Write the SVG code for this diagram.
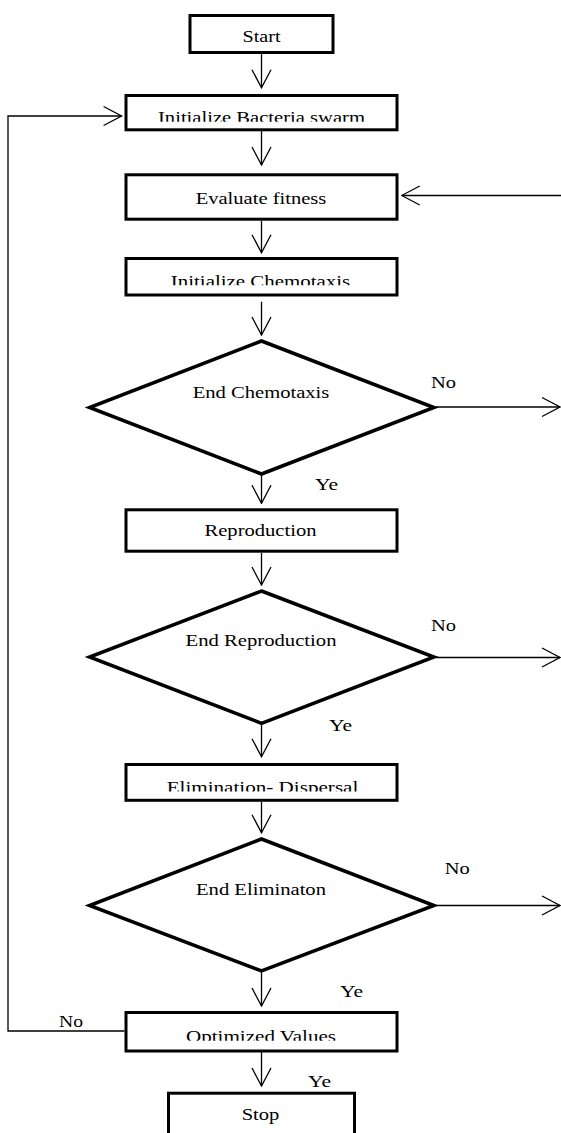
<svg xmlns="http://www.w3.org/2000/svg" width="561" height="1133" viewBox="0 0 561 1133">
<style>
.box{fill:#fff;stroke:#000;stroke-width:3}
.dia{fill:#fff;stroke:#000;stroke-width:3.5;stroke-linejoin:miter}
.con{fill:none;stroke:#000;stroke-width:1.3}
text{font-family:"Liberation Serif","Times New Roman",serif;font-size:17.5px;fill:#000}
.c{text-anchor:middle}
</style>
<defs>
<marker id="ah" markerUnits="userSpaceOnUse" viewBox="0 0 20 22" markerWidth="20" markerHeight="22" refX="19" refY="11" orient="auto">
<path d="M1,1.5 L19,11 L1,20.5" fill="none" stroke="#000" stroke-width="1.3"/>
</marker>
<clipPath id="cp1"><rect x="124" y="90" width="276" height="31.8"/></clipPath>
<clipPath id="cp2"><rect x="124" y="255" width="276" height="30.3"/></clipPath>
<clipPath id="cp3"><rect x="124" y="760" width="276" height="31.5"/></clipPath>
<clipPath id="cp4"><rect x="124" y="1010" width="276" height="30.8"/></clipPath>
</defs>

<g id="connectors">
<line class="con" x1="261.5" y1="54" x2="261.5" y2="87.7" marker-end="url(#ah)"/>
<line class="con" x1="261.5" y1="131" x2="261.5" y2="165" marker-end="url(#ah)"/>
<line class="con" x1="561" y1="195.5" x2="401.7" y2="195.5" marker-end="url(#ah)"/>
<line class="con" x1="261.5" y1="221" x2="261.5" y2="252.7" marker-end="url(#ah)"/>
<line class="con" x1="261.5" y1="301.7" x2="261.5" y2="335" marker-end="url(#ah)"/>
<line class="con" x1="436" y1="407" x2="560" y2="407" marker-end="url(#ah)"/>
<line class="con" x1="261.5" y1="472" x2="261.5" y2="503.3" marker-end="url(#ah)"/>
<line class="con" x1="261.5" y1="553" x2="261.5" y2="585" marker-end="url(#ah)"/>
<line class="con" x1="436" y1="657.5" x2="560" y2="657.5" marker-end="url(#ah)"/>
<line class="con" x1="261.5" y1="722" x2="261.5" y2="756.7" marker-end="url(#ah)"/>
<line class="con" x1="261.5" y1="802" x2="261.5" y2="832.7" marker-end="url(#ah)"/>
<line class="con" x1="436" y1="905.5" x2="560" y2="905.5" marker-end="url(#ah)"/>
<line class="con" x1="261.5" y1="970" x2="261.5" y2="1006" marker-end="url(#ah)"/>
<line class="con" x1="261.5" y1="1052" x2="261.5" y2="1086" marker-end="url(#ah)"/>
<polyline class="con" points="124.5,1031 8,1031 8,116 121.6,116" marker-end="url(#ah)"/>
<text x="431" y="388" textLength="25" lengthAdjust="spacingAndGlyphs">No</text>
<text x="315" y="489.5" textLength="23" lengthAdjust="spacingAndGlyphs">Ye</text>
<text x="431" y="631" textLength="25" lengthAdjust="spacingAndGlyphs">No</text>
<text x="329" y="730.5" textLength="23" lengthAdjust="spacingAndGlyphs">Ye</text>
<text x="444.7" y="874" textLength="25" lengthAdjust="spacingAndGlyphs">No</text>
<text x="340" y="996.6" textLength="23" lengthAdjust="spacingAndGlyphs">Ye</text>
<text x="59" y="1026.6" textLength="24" lengthAdjust="spacingAndGlyphs">No</text>
<text x="308" y="1086.6" textLength="23" lengthAdjust="spacingAndGlyphs">Ye</text>
</g>

<g id="start">
<rect class="box" x="190" y="15.5" width="143" height="37"/>
<text class="c" x="261.5" y="42" textLength="38" lengthAdjust="spacingAndGlyphs">Start</text>
</g>
<g id="init-swarm">
<rect class="box" x="126" y="95.5" width="271" height="34.3"/>
<text class="c" x="261.5" y="123" textLength="207" lengthAdjust="spacingAndGlyphs" clip-path="url(#cp1)">Initialize Bacteria swarm</text>
</g>
<g id="evaluate">
<rect class="box" x="126" y="174.8" width="271" height="44.4"/>
<text class="c" x="261" y="204" textLength="130.6" lengthAdjust="spacingAndGlyphs">Evaluate fitness</text>
</g>
<g id="init-chemotaxis">
<rect class="box" x="126" y="258.5" width="271" height="36.5"/>
<text class="c" x="260.5" y="286.5" textLength="179.3" lengthAdjust="spacingAndGlyphs" clip-path="url(#cp2)">Initialize Chemotaxis</text>
</g>
<g id="end-chemotaxis">
<polygon class="dia" points="261.5,341 434,407.5 261.5,474 89.5,407.5"/>
<text class="c" x="261" y="398" textLength="136.7" lengthAdjust="spacingAndGlyphs">End Chemotaxis</text>
</g>
<g id="reproduction">
<rect class="box" x="126" y="509.8" width="271" height="41.4"/>
<text class="c" x="260.5" y="536" textLength="112" lengthAdjust="spacingAndGlyphs">Reproduction</text>
</g>
<g id="end-reproduction">
<polygon class="dia" points="261.5,591 434,657 261.5,723.3 89.5,657"/>
<text class="c" x="261" y="646" textLength="151" lengthAdjust="spacingAndGlyphs">End Reproduction</text>
</g>
<g id="elimination">
<rect class="box" x="126" y="764.5" width="271" height="35.8"/>
<text class="c" x="262.5" y="792.5" textLength="191.7" lengthAdjust="spacingAndGlyphs" clip-path="url(#cp3)">Elimination- Dispersal</text>
</g>
<g id="end-elimination">
<polygon class="dia" points="261.5,839 434,905.5 261.5,971 89.5,905.5"/>
<text class="c" x="261" y="894.5" textLength="130" lengthAdjust="spacingAndGlyphs">End Eliminaton</text>
</g>
<g id="optimized">
<rect class="box" x="126" y="1012.5" width="271" height="38.5"/>
<text class="c" x="261" y="1042" textLength="150" lengthAdjust="spacingAndGlyphs" clip-path="url(#cp4)">Optimized Values</text>
</g>
<g id="stop">
<rect class="box" x="168.5" y="1093.2" width="186" height="60"/>
<text class="c" x="260.5" y="1120" textLength="37.7" lengthAdjust="spacingAndGlyphs">Stop</text>
</g>
</svg>
